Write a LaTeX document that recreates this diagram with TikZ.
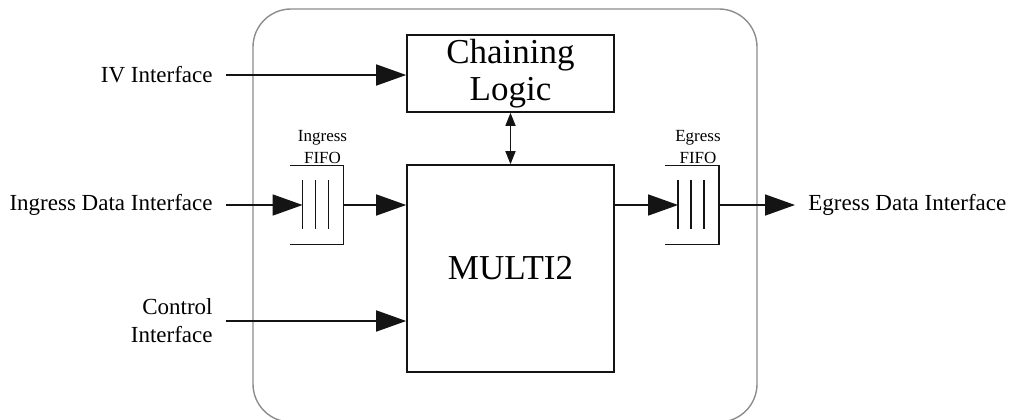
\documentclass[tikz,border=0pt]{standalone}
\usepackage{fontspec}
\setmainfont{Liberation Serif}
\usetikzlibrary{positioning, arrows.meta}
\definecolor{mlframe}{RGB}{140, 140, 140}
\definecolor{mlline}{RGB}{20, 20, 20}
\tikzset{
    blockbox/.style={draw=mlline, line width=0.8pt, minimum width=103.5pt, font=\fontsize{17.5}{20}\selectfont, align=center, inner sep=0pt},
    fifobox/.style={minimum width=26.5pt, minimum height=39pt, inner sep=0pt},
    fifolbl/.style={font=\fontsize{8.5}{11}\selectfont, align=center, inner sep=0pt},
    iflbl/.style={font=\fontsize{11.5}{14}\selectfont, align=right, inner ysep=0pt, inner xsep=6.5pt},
    flow/.style={draw=mlline, line width=0.8pt, -{Triangle[length=15pt, width=10.5pt]}},
    link/.style={draw=mlline, line width=0.8pt, {Triangle[length=6.5pt, width=5pt]}-{Triangle[length=6.5pt, width=5pt]}}
}
% draws the open bracket and the three bars of a fifo node
\newcommand{\fifobars}[1]{%
    \draw[mlline, line width=0.8pt] (#1.north west) -- (#1.north east) -- (#1.south east) -- (#1.south west);
    \foreach \k in {6.5, 13, 19.5}
        \draw[mlline, line width=0.8pt] ([xshift=\k pt, yshift=-7pt]#1.north west) -- ([xshift=\k pt, yshift=7.5pt]#1.south west);
}

\begin{document}
\begin{tikzpicture}[x=0.5pt, y=-0.5pt]
    \useasboundingbox (0,0) rectangle (1009,419);
    % outer frame
    \draw[mlframe, line width=0.7pt, rounded corners=19pt] (253,9) rectangle (757,422);

    % blocks
    \node[blockbox, minimum height=38.5pt] (chain) at (510.5,73.5) {\raisebox{-1.5pt}{\begin{tabular}{@{}c@{}}Chaining\\[-1.5pt]Logic\end{tabular}}};
    \node[blockbox, minimum height=103.5pt] (multi) at (510.5,268.5) {MULTI2};
    \draw[link] (chain.south) -- (multi.north);

    % fifos
    \node[fifobox] (fifoin) at (316.5,205) {};
    \node[fifobox] (fifoout) at (692,205) {};
    \fifobars{fifoin}
    \fifobars{fifoout}
    \node[fifolbl, above=1pt of fifoin, xshift=3pt] (fifoinlbl) {Ingress\\FIFO};
    \node[fifolbl, above=1pt of fifoout, xshift=3pt] (fifooutlbl) {Egress\\FIFO};

    % interface labels
    \node[iflbl, anchor=east] (ivlbl) at (226,75) {IV Interface};
    \node[iflbl, anchor=east] (inlbl) at (226,205) {Ingress Data Interface};
    \node[iflbl, anchor=east] (ctrllbl) at (226,321) {Control\\Interface};
    \node[iflbl, anchor=west, inner xsep=0pt] (outlbl) at (808,205) {Egress Data Interface};
    \coordinate (outtip) at (795,205);

    % connectors
    \draw[flow] (ivlbl.east) -- (chain.west |- ivlbl.east);
    \draw[flow] (inlbl.east) -- ([xshift=6.5pt]fifoin.west);
    \draw[flow] (fifoin.east) -- (multi.west |- fifoin.east);
    \draw[flow] (ctrllbl.east) -- (multi.west |- ctrllbl.east);
    \draw[flow] (multi.east |- fifoout.west) -- ([xshift=6.5pt]fifoout.west);
    \draw[flow] (fifoout.east) -- (outtip);
\end{tikzpicture}
\end{document}
